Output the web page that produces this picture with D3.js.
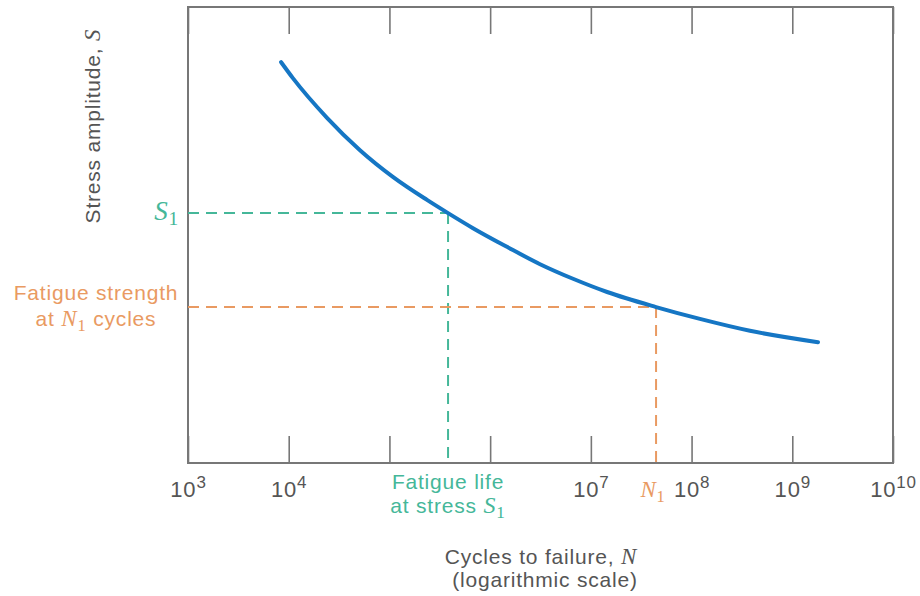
<!DOCTYPE html>
<html>
<head>
<meta charset="utf-8">
<script src="https://cdn.jsdelivr.net/npm/d3@7"></script>
<style>
  body { margin: 0; background: #fff; }
  text { font-family: "Liberation Sans", Arial, sans-serif; letter-spacing: 0.8px; }
</style>
</head>
<body>
<svg id="chart"></svg>
<script>
// S-N fatigue curve (stress is in arbitrary units)
const cycles = [8.4e3, 1.10e4, 2.40e4, 5.1e4, 1.09e5, 2.36e5, 3.82e5, 6.76e5,
                1.47e6, 3.13e6, 6.65e6, 1.45e7, 4.44e7, 1.21e8, 3.80e8, 1.80e9];
const stress = [87.9, 84.4, 75.7, 68.6, 62.7, 57.7, 54.8, 51.5,
                47.4, 43.6, 40.4, 37.5, 34.2, 31.6, 29.0, 26.5];

const tickExponents = [3, 4, 5, 6, 7, 8, 9, 10];
// 10^5 and 10^6 carry no label (the fatigue life note sits there)
const labelExponents = [3, 4, 7, 8, 9, 10];

// the two marked points on the curve
const s1Point = { cycles: 3.82e5, stress: 54.8 };
const n1Point = { cycles: 4.44e7, stress: 34.2 };

var width = 920, height = 596;
var margin = { top: 7, left: 188, right: 27, bottom: 133 };
var innerW = width - margin.left - margin.right;
var innerH = height - margin.top - margin.bottom;

var gray = "#777", textGray = "#555";
var blue = "#1576c4", green = "#45b799", orange = "#e99a62";

var svg = d3.select("#chart")
  .attr("width", width)
  .attr("height", height);

var g = svg.append("g")
  .attr("transform", "translate(" + margin.left + "," + margin.top + ")");

var x = d3.scaleLog()
  .domain([1e3, 1e10])
  .range([0, innerW]);

var y = d3.scaleLinear()
  .domain([0, 100])
  .range([innerH, 0]);

var tickVals = tickExponents.map(function (e) { return Math.pow(10, e); });

// bottom ticks pointing inward
var bottomAxis = g.append("g")
  .attr("transform", "translate(0," + innerH + ")")
  .call(d3.axisBottom(x).tickValues(tickVals).tickSizeInner(-27).tickSizeOuter(0));

bottomAxis.select(".domain").remove();
bottomAxis.selectAll(".tick line").attr("stroke", gray).attr("stroke-width", 1.6);

// tick labels as 10 with a raised exponent
bottomAxis.selectAll(".tick text").each(function (d, i) {
  var e = tickExponents[i];
  var t = d3.select(this).text(null);
  if (labelExponents.indexOf(e) < 0) { t.remove(); return; }
  t.attr("y", 34)
    .attr("dy", null)
    .attr("fill", textGray)
    .attr("font-size", 22)
    .attr("text-anchor", "middle");
  t.append("tspan").text("10");
  t.append("tspan")
    .attr("dy", -9)
    .attr("font-size", 17)
    .text(e);
});

// top ticks, no labels
var topAxis = g.append("g")
  .call(d3.axisTop(x).tickValues(tickVals).tickSizeInner(-27).tickSizeOuter(0).tickFormat(""));
topAxis.select(".domain").remove();
topAxis.selectAll(".tick line").attr("stroke", gray).attr("stroke-width", 1.6);

// frame
g.append("rect")
  .attr("x", 0)
  .attr("y", 0)
  .attr("width", innerW)
  .attr("height", innerH)
  .attr("fill", "none")
  .attr("stroke", gray)
  .attr("stroke-width", 2);

// dashed guide lines
function guide(pt, color) {
  var grp = g.append("g")
    .attr("stroke", color)
    .attr("stroke-width", 2)
    .attr("stroke-dasharray", "11,7")
    .attr("fill", "none");
  grp.append("line")
    .attr("x1", x(1e3)).attr("x2", x(pt.cycles))
    .attr("y1", y(pt.stress)).attr("y2", y(pt.stress));
  grp.append("line")
    .attr("x1", x(pt.cycles)).attr("x2", x(pt.cycles))
    .attr("y1", y(pt.stress)).attr("y2", y(0));
}
guide(s1Point, green);
guide(n1Point, orange);

// the S-N curve
var line = d3.line()
  .x(function (d) { return x(d[0]); })
  .y(function (d) { return y(d[1]); })
  .curve(d3.curveMonotoneX);

g.append("path")
  .datum(d3.zip(cycles, stress))
  .attr("d", line)
  .attr("fill", "none")
  .attr("stroke", blue)
  .attr("stroke-width", 4)
  .attr("stroke-linecap", "round");

// helper for italic serif symbol with subscript 1
function symbol(textSel, letter, size) {
  textSel.append("tspan")
    .attr("font-family", "'Liberation Serif', serif")
    .attr("font-style", "italic")
    .attr("font-size", size)
    .text(letter);
  textSel.append("tspan")
    .attr("font-family", "'Liberation Serif', serif")
    .attr("font-size", size * 0.72)
    .attr("dy", 5)
    .text("1");
}

// S1 label at the left
var s1Label = svg.append("text")
  .attr("x", margin.left - 9)
  .attr("y", margin.top + y(s1Point.stress) + 7)
  .attr("text-anchor", "end")
  .attr("fill", green);
symbol(s1Label, "S", 27);

// fatigue strength label
var fsX = 96;
var fsY = margin.top + y(n1Point.stress);
svg.append("text")
  .attr("x", fsX)
  .attr("y", fsY - 7)
  .attr("text-anchor", "middle")
  .attr("font-size", 21)
  .attr("fill", orange)
  .text("Fatigue strength");
var fs2 = svg.append("text")
  .attr("x", fsX)
  .attr("y", fsY + 19)
  .attr("text-anchor", "middle")
  .attr("font-size", 21)
  .attr("fill", orange);
fs2.append("tspan").text("at ");
symbol(fs2, "N", 23);
fs2.append("tspan").attr("dy", -5).text(" cycles");

// fatigue life label under the axis
var flX = margin.left + x(s1Point.cycles);
svg.append("text")
  .attr("x", flX)
  .attr("y", 489)
  .attr("text-anchor", "middle")
  .attr("font-size", 21)
  .attr("fill", green)
  .text("Fatigue life");
var fl2 = svg.append("text")
  .attr("x", flX)
  .attr("y", 513)
  .attr("text-anchor", "middle")
  .attr("font-size", 21)
  .attr("fill", green);
fl2.append("tspan").text("at stress ");
symbol(fl2, "S", 24);

// N1 label on the axis
var n1Label = svg.append("text")
  .attr("x", margin.left + x(n1Point.cycles) - 3)
  .attr("y", 497)
  .attr("text-anchor", "middle")
  .attr("fill", orange);
symbol(n1Label, "N", 23);

// x axis title
var xt = svg.append("text")
  .attr("x", 541)
  .attr("y", 564)
  .attr("text-anchor", "middle")
  .attr("font-size", 21)
  .attr("fill", textGray);
xt.append("tspan").text("Cycles to failure, ");
xt.append("tspan")
  .attr("font-family", "'Liberation Serif', serif")
  .attr("font-style", "italic")
  .attr("font-size", 23)
  .text("N");
svg.append("text")
  .attr("x", 545)
  .attr("y", 587)
  .attr("text-anchor", "middle")
  .attr("font-size", 21)
  .attr("fill", textGray)
  .text("(logarithmic scale)");

// y axis title
var yt = svg.append("text")
  .attr("transform", "translate(100,126) rotate(-90)")
  .attr("text-anchor", "middle")
  .attr("font-size", 21)
  .attr("fill", textGray);
yt.append("tspan").text("Stress amplitude, ");
yt.append("tspan")
  .attr("font-family", "'Liberation Serif', serif")
  .attr("font-style", "italic")
  .attr("font-size", 23)
  .text("S");
</script>
</body>
</html>
